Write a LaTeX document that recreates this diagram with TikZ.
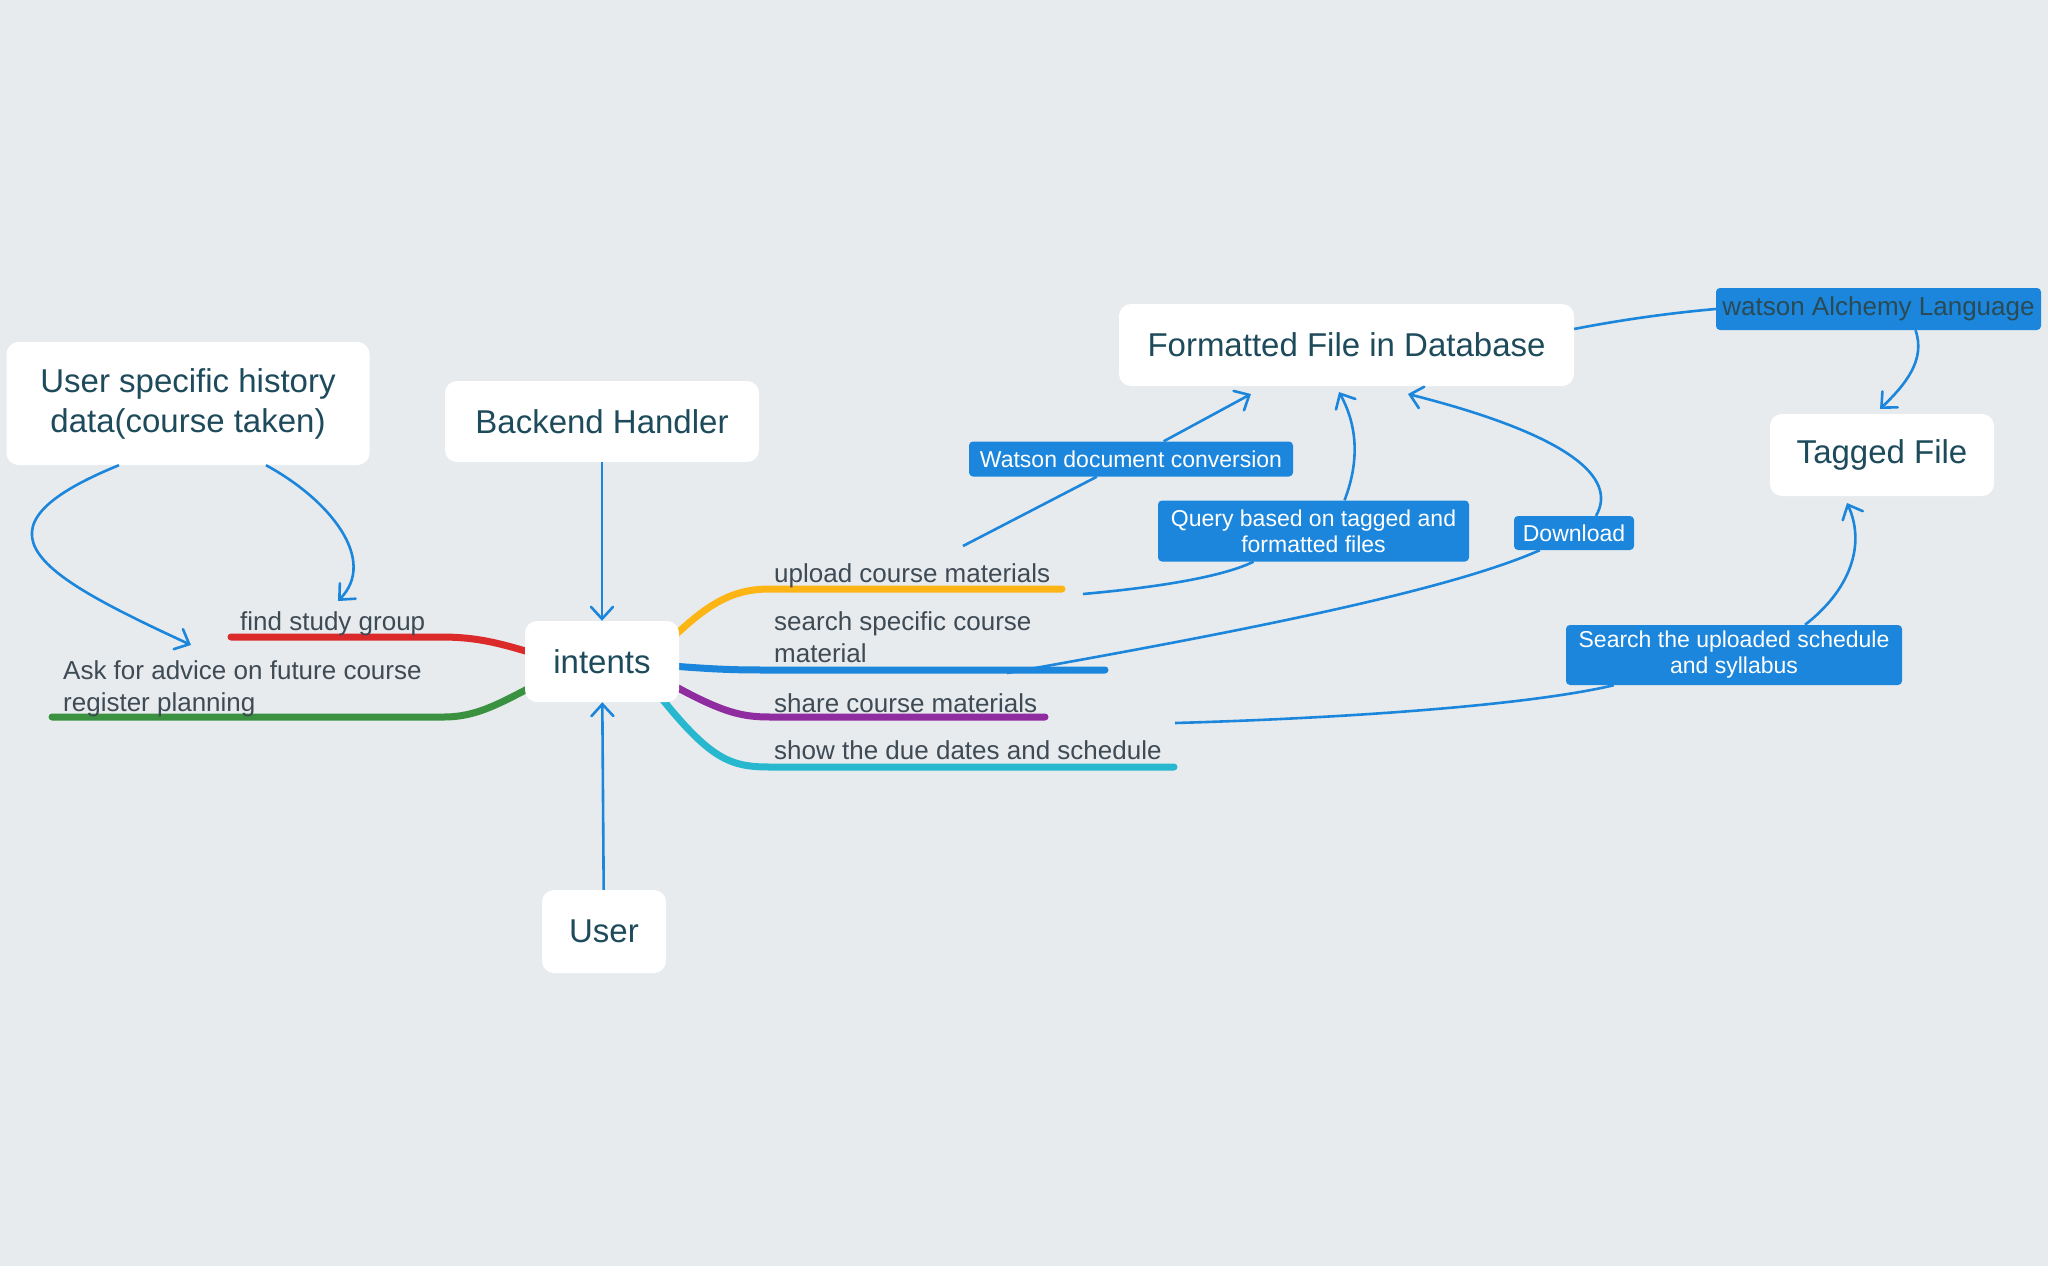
\documentclass[tikz,border=0pt]{standalone}
\usepackage{fontspec}
\setmainfont{Liberation Sans}
\usetikzlibrary{arrows.meta,calc}
\definecolor{bgc}{HTML}{E7EBEE}
\definecolor{titlec}{HTML}{1E4B5B}
\definecolor{labc}{HTML}{3E4A54}
\definecolor{connc}{HTML}{1B86DC}
\definecolor{alchc}{HTML}{2A4A55}
\definecolor{redb}{HTML}{DC2A2A}
\definecolor{greenb}{HTML}{3A9240}
\definecolor{yellowb}{HTML}{FDB515}
\definecolor{blueb}{HTML}{1B86DC}
\definecolor{purpleb}{HTML}{8E2CA0}
\definecolor{cyanb}{HTML}{27B8D0}
\pgfdeclarelayer{back}
\pgfsetlayers{back,main}
\begin{document}
\begin{tikzpicture}[x=1pt,y=-1pt,
  topic/.style={fill=white,rounded corners=12pt,text=titlec,font=\fontsize{33}{40}\selectfont,align=center,inner sep=0pt},
  tagbox/.style={fill=connc,rounded corners=4pt,text=white,font=\fontsize{23}{26}\selectfont,align=center,inner sep=0pt},
  blabel/.style={anchor=west,text=labc,font=\fontsize{26}{31.5}\selectfont,align=left,inner sep=0pt},
  conn/.style={draw=connc,line width=2.6pt,-{Straight Barb[length=12pt,width=22pt,line cap=round]}},
  branch/.style={line width=7pt,line cap=round}]
\useasboundingbox (0,0) rectangle (2048,1266);

% topics
\node[topic,minimum width=363pt,minimum height=123pt] (hist) at (188,403.5) {\raisebox{0pt}[\height][\depth]{}\smash{\parbox{0pt}{}}User specific history\\data(course taken)};
\node[topic,minimum width=314pt,minimum height=81pt] (back) at (602,421.5) {Backend Handler};
\node[topic,minimum width=154pt,minimum height=81pt] (intents) at (602,661.5) {intents};
\node[topic,minimum width=124pt,minimum height=83pt] (user) at (604,931.5) {User};
\node[topic,minimum width=455pt,minimum height=82pt] (form) at (1346.5,345) {Formatted File in Database};
\node[topic,minimum width=224pt,minimum height=82pt] (tagged) at (1882,455) {\raisebox{-3pt}{Tagged File}};

% labels on connectors
\node[tagbox,minimum width=325pt,minimum height=42pt,text=alchc,font=\fontsize{26}{30}\selectfont] (alch) at (1878.5,309) {\raisebox{-2pt}{watson Alchemy Language}};
\node[tagbox,minimum width=324pt,minimum height=35pt] (wdc) at (1131,459) {Watson document conversion};
\node[tagbox,minimum width=311pt,minimum height=61pt] (query) at (1313.5,531) {Query based on tagged and\\formatted files};
\node[tagbox,minimum width=120pt,minimum height=34pt] (down) at (1574,533) {Download};
\node[tagbox,minimum width=336pt,minimum height=60pt] (search) at (1734,655) {Search the uploaded schedule\\and syllabus};

% branch labels
\node[blabel] (find) at (240,624) {find study group};
\node[blabel] (ask) at (63,689) {Ask for advice on future course\\register planning};
\node[blabel] (upload) at (774,576) {upload course materials};
\node[blabel] (searchm) at (774,637) {search specific course\\material};
\node[blabel] (share) at (774,703) {share course materials};
\node[blabel] (show) at (774,750) {show the due dates and schedule};

% background and branches
\begin{pgfonlayer}{back}
\fill[bgc] (0,0) rectangle (2048,1266);
\draw[branch,redb] (231,637) -- (440,637) .. controls (478,637) and (500,643) .. (545,657);
\draw[branch,greenb] (52,717) -- (444,717) .. controls (480,717) and (505,700) .. (545,680);
\draw[branch,yellowb] (660,650) .. controls (705,605) and (730,589) .. (770,589) -- (1062,589);
\draw[branch,blueb] (660,665) .. controls (720,670) and (740,670) .. (770,670) -- (1105,670);
\draw[branch,purpleb] (660,678) .. controls (720,712) and (740,717) .. (770,717) -- (1045,717);
\draw[branch,cyanb] (655,690) .. controls (710,760) and (730,767) .. (770,767) -- (1174,767);
\end{pgfonlayer}

% free ends
\coordinate (tfind) at (338,601);
\coordinate (task) at (191,645);
\coordinate (s5) at (963,546);
\coordinate (t5) at (1251,394);
\coordinate (s6) at (1083,594);
\coordinate (t6) at (1339,392);
\coordinate (s7) at (1007,673);
\coordinate (t7) at (1408,394);
\coordinate (s9) at (1175,723);
\coordinate (t8) at (1880,409);
\coordinate (t9) at (1847,503);

% connectors
\draw[conn] ($(hist.south)+(78,0)$) .. controls (330,500) and (378,560) .. (tfind);
\draw[conn] ($(hist.south)+(-69,0)$) .. controls (-40,530) and (40,575) .. (task);
\draw[conn] (back) -- (intents);
\draw[conn] (user) -- (intents);
\draw[conn] (s5) -- (wdc) -- (t5);
\draw[draw=connc,line width=2.6pt] (s6) .. controls (1150,588) and (1220,578) .. ($(query.south)+(-60,0)$);
\draw[conn] ($(query.north)+(31,0)$) .. controls (1360,460) and (1357,425) .. (t6);
\draw[draw=connc,line width=2.6pt] (s7) .. controls (1250,630) and (1450,590) .. ($(down.south west)+(26,0)$);
\draw[conn] ($(down.north)+(22,0)$) .. controls (1618,478) and (1570,435) .. (t7);
\draw[draw=connc,line width=2.6pt] ($(form.east)+(0,-16)$) .. controls (1620,320) and (1670,313) .. (alch.west);
\draw[conn] ($(alch.south)+(37,0)$) .. controls (1926,360) and (1905,385) .. (t8);
\draw[draw=connc,line width=2.6pt] (s9) .. controls (1350,718) and (1530,705) .. ($(search.south west)+(48,0)$);
\draw[conn] ($(search.north)+(71,0)$) .. controls (1850,590) and (1866,545) .. (t9);
\end{tikzpicture}
\end{document}
